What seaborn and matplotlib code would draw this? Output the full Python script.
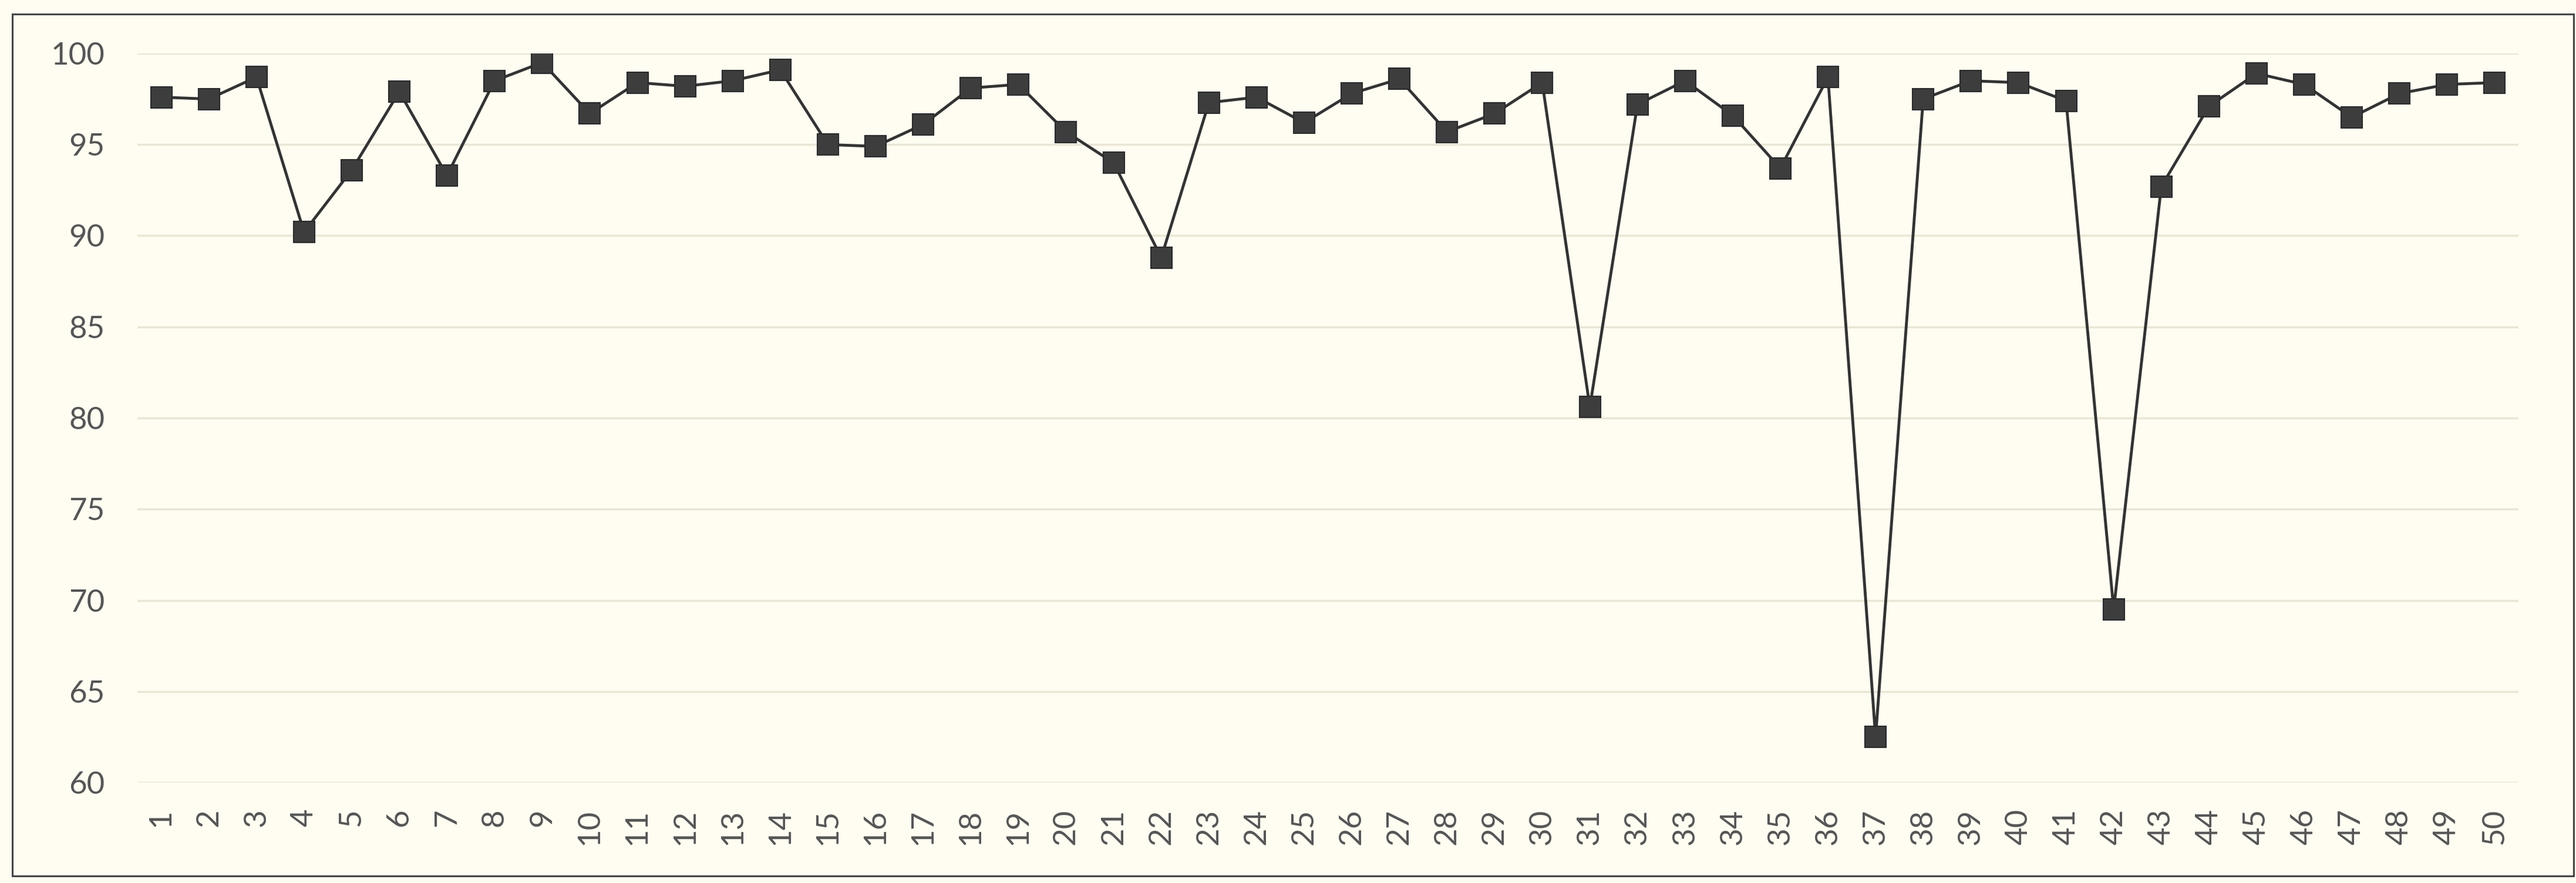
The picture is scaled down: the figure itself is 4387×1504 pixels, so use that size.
import matplotlib.pyplot as plt
import matplotlib.patches as mpatches
import seaborn as sns
import pandas as pd

samples = list(range(1, 51))
values = [97.6, 97.5, 98.7, 90.2, 93.6, 97.9, 93.3, 98.5, 99.5, 96.7,
          98.4, 98.2, 98.5, 99.1, 95.0, 94.9, 96.1, 98.1, 98.3, 95.7,
          94.0, 88.8, 97.3, 97.6, 96.2, 97.8, 98.6, 95.7, 96.7, 98.4,
          80.6, 97.2, 98.5, 96.6, 93.7, 98.7, 62.5, 97.5, 98.5, 98.4,
          97.4, 69.5, 92.7, 97.1, 98.9, 98.3, 96.5, 97.8, 98.3, 98.4]
yticks = [60, 65, 70, 75, 80, 85, 90, 95, 100]

df = pd.DataFrame({'sample': samples, 'value': values})

bg = '#fffdf1'
sns.set_style('white', {'axes.facecolor': bg, 'figure.facecolor': bg})
plt.rcParams['font.family'] = ['Lato', 'DejaVu Sans']

W, H = 4387, 1504
fig = plt.figure(figsize=(W / 100, H / 100), dpi=100)
ax = fig.add_axes([234 / W, 1 - 1333 / H, (4289 - 234) / W, (1333 - 91) / H])

sns.lineplot(data=df, x='sample', y='value', ax=ax, color='#333333',
             linewidth=3.5, marker='s', markersize=26,
             markerfacecolor='#3d3d3d', markeredgecolor='#2a2a2a',
             markeredgewidth=1.5)

ax.set_xlim(0.5, 50.5)
ax.set_ylim(60, 100)
ax.set_yticks(yticks)
ax.set_xticks(samples)
ax.set_xticklabels([str(s) for s in samples], rotation=90)
ax.yaxis.grid(True, color='#e9e6d6', linewidth=2.5)
ax.set_axisbelow(True)
for s in ax.spines.values():
    s.set_visible(False)
ax.tick_params(axis='both', length=0, labelsize=38, labelcolor='#555555')
ax.tick_params(axis='y', pad=40)
ax.tick_params(axis='x', pad=32)
ax.set_xlabel('')
ax.set_ylabel('')

# outer frame of the chart
frame = mpatches.Rectangle((21 / W, 1 - 1492 / H), (4383 - 21) / W, (1492 - 24) / H,
                           transform=fig.transFigure, fill=False,
                           edgecolor='#444444', linewidth=2.2)
fig.patches.append(frame)

plt.savefig('out.png', dpi=100, facecolor=bg)
